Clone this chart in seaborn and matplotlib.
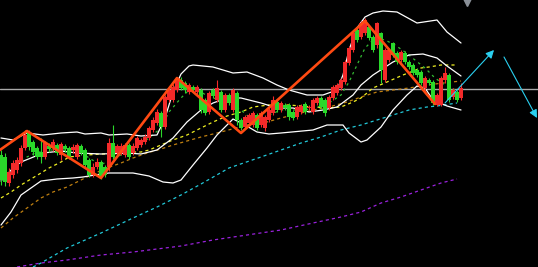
import matplotlib
matplotlib.use("Agg")
import matplotlib.pyplot as plt
import seaborn as sns
import numpy as np
import pandas as pd

# ---- candle data (Chinese convention: red = up, green = down) ----
opens  = [112,110,84,92,97,104,119,135,125,119,115,110,121,119,122,112,121,119,117,110,
          121,117,107,92,100,105,100,100,124,114,114,112,122,114,119,122,125,129,137,144,
          154,140,167,167,177,187,184,175,180,175,177,167,155,177,167,175,157,172,157,174,
          147,140,144,142,152,142,139,147,154,165,157,162,162,155,150,155,163,159,155,164,
          169,167,159,169,174,179,185,204,217,237,230,234,240,230,222,234,187,207,224,214,
          207,214,205,202,197,195,179,187,185,162,162,187,192,170,175,169]
highs  = [117,114,99,107,110,122,137,137,127,121,129,126,124,128,124,125,123,121,123,124,
          123,119,109,104,109,107,102,129,142,123,124,124,124,124,131,129,133,141,150,158,
          156,172,180,183,190,190,186,184,182,182,179,169,176,179,187,177,174,174,179,176,
          149,152,154,156,154,156,152,159,171,167,166,164,164,157,162,163,165,162,169,171,
          171,169,172,182,184,189,207,221,236,239,246,249,242,232,245,235,219,219,225,216,
          217,216,207,204,199,197,191,189,187,174,191,200,194,179,177,184]
lows   = [82,81,81,89,94,101,117,117,112,108,104,108,115,116,112,107,115,108,114,108,
          112,100,90,90,98,88,90,96,108,111,112,110,108,112,117,120,123,127,135,142,
          130,138,165,165,175,177,174,173,175,173,154,152,153,169,165,155,155,162,155,142,
          137,138,142,140,137,140,136,145,152,155,155,157,147,147,148,153,153,157,153,162,
          158,151,157,167,172,177,183,202,215,225,228,232,227,215,219,184,185,205,210,203,
          205,203,198,192,190,182,177,182,162,161,161,184,165,168,165,167]
closes = [87,85,95,104,107,119,132,120,115,110,110,124,118,125,114,123,118,110,120,122,
          114,102,92,100,105,90,92,124,110,121,121,122,110,121,129,127,130,139,147,155,
          140,170,177,180,187,179,177,182,177,180,157,154,174,171,179,157,172,164,177,147,
          139,150,152,154,139,154,150,157,167,157,164,159,150,149,160,161,155,160,167,169,
          160,154,170,180,182,187,205,219,234,227,244,247,229,217,244,197,217,217,212,205,
          215,205,200,194,192,184,189,184,164,172,189,194,167,177,167,179]

# ---- Bollinger bands ----
upper_x = [0,3,6.5,10.5,15,19,21,25,27,31.5,35,39,41,43,45,47,48,53,58,61.5,65.5,69,72,76.5,
           80.5,84,85.5,87,89,91,93,95.5,99,104,109,111.5,115]
upper_y = [129,127,134,132,134,135,133,134,132,133,131,132,149,175,193,201,202,200,194,195,
           189,182,177,172,172,177,192,217,239,250,254,256,255,244,247,235,224]
mid_x = [0,3,5,7.5,10.5,15,19,25,31.5,35,39,43,46.5,50,53,56.5,60,65,69,73,77,80.5,84,88,90,
         93,98,102,105.5,109,111.5,115]
mid_y = [86,99,105,109,114,116,114,113,114,113,117,129,145,157,164,169,169,164,159,159,155,
         157,160,172,182,192,205,212,213,209,201,191]
lower_x = [0,2.5,5,7.5,10,14,18,20.5,25,27,33,37,40.5,43,45,48,51.5,54,56.5,58,61,64,67,70,
           78,81.5,85.5,87,90,91.5,95,98,101.5,104,106,108,111.5,115]
lower_y = [42,55,72,79,86,88,89,90,93,94,94,91,85,84,87,102,119,132,142,148,142,135,133,134,
           137,142,142,134,125,127,140,157,172,181,179,167,161,157]

# ---- moving averages ----
ma_short_x = [5,8.5,12,16,20,22,25,27,30,33.5,37,40,42,45,47,50,52,55,57,60,62,65,67,70,72,76,
              80,82,85,87,89,91,93.5,96,98.5,101,103.5,106,108.5,111,113.5]
ma_short_y = [107,114,117,117,115,109,102,107,112,119,129,139,155,169,177,175,170,167,165,157,
              150,147,152,157,157,157,161,164,172,185,202,219,229,227,222,215,207,199,189,182,177]
ma_yel_x = [0,2.5,5,7.5,10,12,15,17,21.5,25,28,31.5,35,37,40,43,46.5,50,53,56.5,60,63,67,72,78,
            81.5,85,88,90,93,96.5,100.5,105,107,110,114]
ma_yel_y = [69,75,82,88,94,99,105,110,112,113,113,115,115,117,122,127,132,139,145,151,155,160,
            162,162,160,159,160,165,169,179,185,192,199,200,202,202]
ma_org_x = [0,3,6.5,10,13,16.5,20,23,26.5,30,33,36.5,40,43,46.5,50,55,61.5,66.5,70,73,78,82,
            86.5,90,94,98,102,106.5,110.5,115]
ma_org_y = [39,49,59,69,75,80,87,93,99,104,109,114,118,122,126,130,135,142,145,149,152,157,160,
            165,170,175,177,179,182,184,186]
ma_cyan_x = [8,10,16.5,25,33,39,45,50,57,65,70,75,80,85,90,94,98,102,106.5,109,114]
ma_cyan_y = [0,4,19,34,49,60,72,83,99,110,117,124,130,137,142,147,152,157,160,161,164]
ma_purp_x = [4,10,16.5,25,33,45,53,61.5,70,78,85,90,95,100,105,110,114]
ma_purp_y = [0,4,7,12,15,21,27,32,37,44,50,55,64,70,77,84,88]

# ---- zigzag pivots, reference level and projection arrows ----
zz_x = [-1, 6.5, 25, 44, 60, 91, 108.5]
zz_y = [115, 136, 89, 189, 134, 246, 163]
ref_level = 178
arrow1 = [(111, 164), (123.25, 217)]
arrow2 = [(125.75, 210), (134, 149)]
marker_pt = (116.5, 266)

sns.set_style("dark")
fig = plt.figure(figsize=(5.38, 2.67), dpi=100, facecolor="black")
ax = fig.add_axes([0, 0, 1, 1])
ax.set_facecolor("black")

def line(xs, ys, color, dash=None, lw=0.9, z=2):
    df = pd.DataFrame({"x": xs, "y": ys})
    kw = {}
    if dash is not None:
        kw["linestyle"] = (0, dash)
    sns.lineplot(data=df, x="x", y="y", ax=ax, color=color, lw=lw, sort=False,
                 estimator=None, zorder=z, **kw)

ax.axhline(ref_level, color="#a8a8a8", lw=1.0, zorder=1)

line(ma_purp_x, ma_purp_y, "#9a22dd", dash=(2.5, 2.5))
line(ma_cyan_x, ma_cyan_y, "#22c8d8", dash=(2.5, 2.5))
line(ma_org_x, ma_org_y, "#c08010", dash=(2.5, 2.5))
line(ma_yel_x, ma_yel_y, "#eeee22", dash=(2.5, 2.5))
line(ma_short_x, ma_short_y, "#33bb33", dash=(2.0, 3.0))
line(upper_x, upper_y, "white")
line(mid_x, mid_y, "white")
line(lower_x, lower_y, "white")

# candles
o = np.array(opens, float); h = np.array(highs, float)
l = np.array(lows, float); c = np.array(closes, float)
idx = np.arange(len(o))
up = c >= o
cols = np.where(up, "#f42a2a", "#2ad82a")
ax.vlines(idx, l, h, colors=cols, lw=0.8, zorder=3)
bottoms = np.minimum(o, c)
heights = np.maximum(np.abs(c - o), 1.5)
ax.bar(idx, heights, bottom=bottoms, width=0.8, color=cols, linewidth=0, zorder=4)

# zigzag
line(zz_x, zz_y, "#ff4a12", lw=1.9, z=5)

# projection arrows
for (a, b) in (arrow1, arrow2):
    ax.annotate("", xy=b, xytext=a,
                arrowprops=dict(arrowstyle="-|>", color="#2ad0f0", lw=0.8,
                                mutation_scale=12, shrinkA=0, shrinkB=0), zorder=6)

ax.plot([marker_pt[0]], [marker_pt[1]], marker="v", color="#8a9098", markersize=7, zorder=6)

ax.set_xlim(-0.25, 134.25)
ax.set_ylim(0, 267)
ax.axis("off")
if ax.get_legend():
    ax.get_legend().remove()

fig.savefig("out.png", dpi=100, facecolor="black")
